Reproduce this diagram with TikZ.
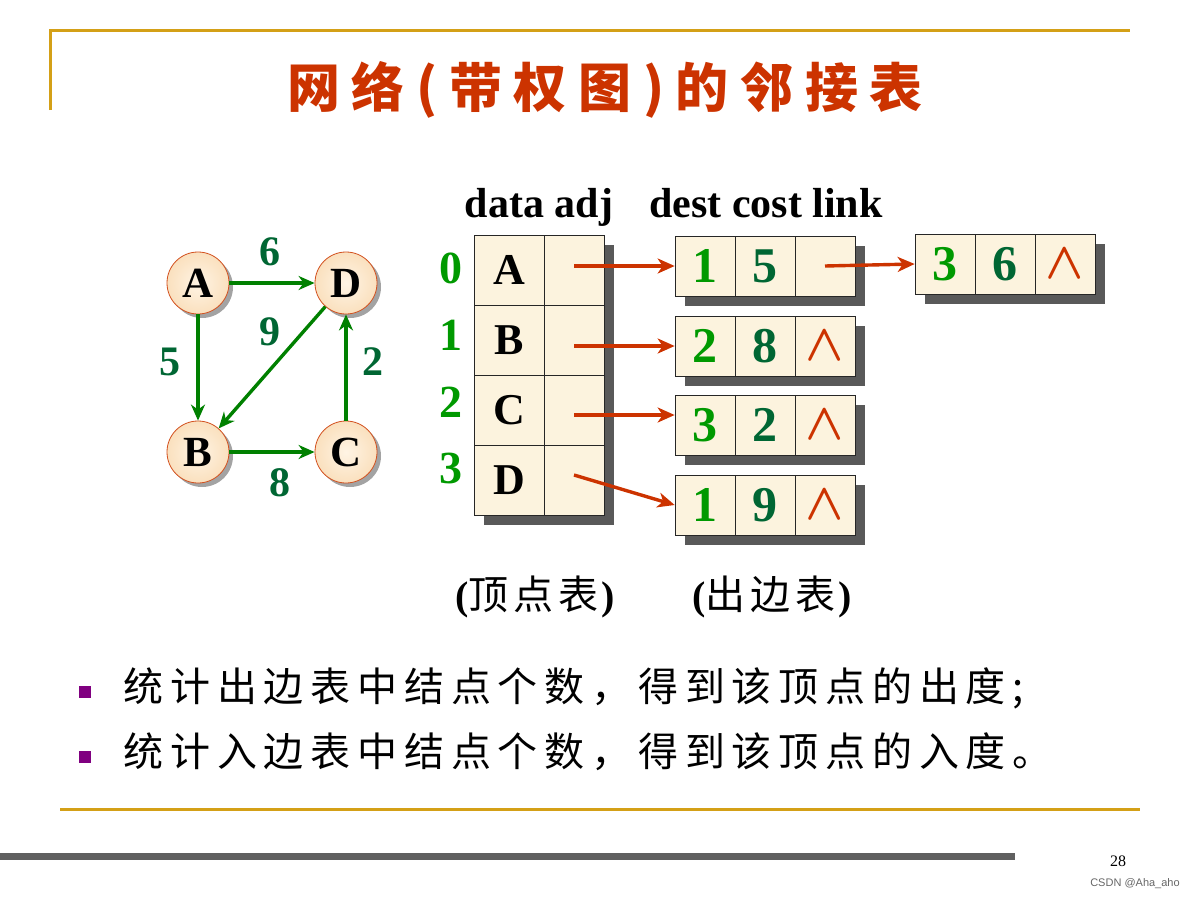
\documentclass[tikz,border=0pt]{standalone}
\usepackage{fontspec}
\setmainfont{Liberation Serif}
\newfontfamily\cjk{Noto Sans CJK SC}
\newfontfamily\cjkw[LetterSpace=17]{Noto Sans CJK SC}
\newfontfamily\cjkc[LetterSpace=12]{Noto Sans CJK SC}
\newfontfamily\cjkt[LetterSpace=22]{Noto Sans CJK SC}
\newfontfamily\sans{Liberation Sans}
\usetikzlibrary{arrows.meta,shadows}
\definecolor{gold}{RGB}{212,160,23}
\definecolor{titlered}{RGB}{204,51,0}
\definecolor{edgegreen}{RGB}{0,128,0}
\definecolor{wgreen}{RGB}{0,102,51}
\definecolor{igreen}{RGB}{0,153,0}
\definecolor{arrred}{RGB}{204,51,0}
\definecolor{cream}{RGB}{252,243,222}
\definecolor{peach}{RGB}{250,224,190}
\definecolor{peachlight}{RGB}{255,244,228}
\definecolor{vborder}{RGB}{210,80,30}
\definecolor{bulletpurple}{RGB}{128,0,128}
\definecolor{bargrey}{RGB}{96,96,96}
\begin{document}
\begin{tikzpicture}[x=1pt,y=-1pt,
  vtx/.style={circle, minimum size=62pt, inner sep=0pt, draw=vborder, line width=0.8pt,
    inner color=peachlight, outer color=peach,
    drop shadow={shadow xshift=4pt, shadow yshift=-4pt, fill=black!45, opacity=0.8},
    font=\fontsize{43}{43}\selectfont\bfseries},
  garrow/.style={draw=edgegreen, line width=3.4pt, -{Stealth[length=16pt,width=14pt,inset=5pt]}},
  rarrow/.style={draw=arrred, line width=3.4pt, -{Stealth[length=17pt,width=15pt,inset=5pt]}},
  wlabel/.style={text=wgreen, font=\fontsize{42}{42}\selectfont\bfseries},
  cellbase/.style={rectangle, draw=black!85, line width=0.7pt, fill=cream, inner sep=0pt,
    drop shadow={shadow xshift=10pt, shadow yshift=-10pt, fill=black!65, opacity=1}},
  vdata/.style={cellbase, minimum width=70pt, minimum height=70pt, font=\fontsize{44}{44}\selectfont\bfseries},
  vadj/.style={cellbase, minimum width=60pt, minimum height=70pt},
  ecell/.style={cellbase, minimum width=60pt, minimum height=60pt, font=\fontsize{50}{50}\selectfont\bfseries},
  idx/.style={text=igreen, font=\fontsize{46}{46}\selectfont\bfseries},
  hdr/.style={anchor=base, font=\fontsize{42}{42}\selectfont\bfseries},
  nil/.style={text=arrred, font=\fontsize{10}{10}\selectfont\boldmath},
  captext/.style={font=\fontsize{40}{40}\selectfont\bfseries},
  bullet/.style={rectangle, fill=bulletpurple, minimum size=12pt, inner sep=0pt},
  btext/.style={anchor=west, font=\fontsize{40}{42}\selectfont\cjkw},
  goldline/.style={draw=gold, line width=3pt}
]
\useasboundingbox (0,0) rectangle (1200,900);

% frame lines
\coordinate (tl) at (50,30);
\coordinate (tr) at (1130,30);
\coordinate (lb) at (50,110);
\draw[goldline] (lb) -- (tl) -- (tr);
\coordinate (bl) at (60,809);
\coordinate (br) at (1140,809);
\draw[goldline] (bl) -- (br);
\coordinate (gl) at (0,856);
\coordinate (gr) at (1015,856);
\draw[draw=bargrey, line width=7pt] (gl) -- (gr);

% title
\node[text=titlered, font=\fontsize{53}{56}\selectfont\cjkt\bfseries] (title) at (605,90) {网络(带权图)的邻接表};

% graph
\node[vtx] (A) at (198,283) {A};
\node[vtx] (D) at (346,283) {D};
\node[vtx] (B) at (198,452) {B};
\node[vtx] (C) at (346,452) {C};
\draw[garrow] (A) -- (D);
\draw[garrow] (A) -- (B);
\draw[garrow] (D) -- (B);
\draw[garrow] (C) -- (D);
\draw[garrow] (B) -- (C);
\node[wlabel] (w6) at (270,252) {6};
\node[wlabel] (w5) at (170,362) {5};
\node[wlabel] (w9) at (270,332) {9};
\node[wlabel] (w2) at (373,362) {2};
\node[wlabel] (w8) at (280,483) {8};

% headers
\node[hdr] (h1) at (539,217) {data adj};
\node[hdr] (h2) at (766,217) {dest cost link};

% vertex table
\node[vdata] (v0d) at (509,270) {A};
\node[vadj]  (v0p) at (574,270) {};
\node[vdata] (v1d) at (509,340) {B};
\node[vadj]  (v1p) at (574,340) {};
\node[vdata] (v2d) at (509,410) {C};
\node[vadj]  (v2p) at (574,410) {};
\node[vdata] (v3d) at (509,480) {D};
\node[vadj]  (v3p) at (574,480) {};
\node[idx] (i0) at (451,268) {0};
\node[idx] (i1) at (451,335) {1};
\node[idx] (i2) at (451,402) {2};
\node[idx] (i3) at (451,468) {3};

% edge nodes
\node[ecell] (e0a) at (705,266) {\textcolor{igreen}{1}};
\node[ecell] (e0b) at (765,266) {\textcolor{wgreen}{5}};
\node[ecell] (e0c) at (825,266) {};
\node[ecell] (e1a) at (705,346) {\textcolor{igreen}{2}};
\node[ecell] (e1b) at (765,346) {\textcolor{wgreen}{8}};
\node[ecell, nil] (e1c) at (825,346) {\scalebox{5}[5.2]{$\wedge$}};
\node[ecell] (e2a) at (705,425) {\textcolor{igreen}{3}};
\node[ecell] (e2b) at (765,425) {\textcolor{wgreen}{2}};
\node[ecell, nil] (e2c) at (825,425) {\scalebox{5}[5.2]{$\wedge$}};
\node[ecell] (e3a) at (705,505) {\textcolor{igreen}{1}};
\node[ecell] (e3b) at (765,505) {\textcolor{wgreen}{9}};
\node[ecell, nil] (e3c) at (825,505) {\scalebox{5}[5.2]{$\wedge$}};
\node[ecell] (e4a) at (945,264) {\textcolor{igreen}{3}};
\node[ecell] (e4b) at (1005,264) {\textcolor{wgreen}{6}};
\node[ecell, nil] (e4c) at (1065,264) {\scalebox{5}[5.2]{$\wedge$}};

% pointer arrows
\draw[rarrow] (e0a.west -| v0p.center) -- (e0a.west);
\draw[rarrow] (e1a.west -| v1p.center) -- (e1a.west);
\draw[rarrow] ([yshift=10pt]e2a.west -| v2p.center) -- ([yshift=10pt]e2a.west);
\draw[rarrow] ([yshift=5pt]v3p.center) -- (e3a.west);
\draw[rarrow] (e0c.center) -- (e4a.west);

% captions
\node[captext] (cap1) at (535,597) {({\cjkc\mdseries 顶点表}\hspace{3pt})};
\node[captext] (cap2) at (772,597) {({\cjkc\mdseries 出边表}\hspace{3pt})};

% bullets
\node[bullet] (b1) at (85,692) {};
\node[bullet] (b2) at (85,757) {};
\node[btext] (t1) at (120,688) {统计出边表中结点个数，得到该顶点的出度;};
\node[btext] (t2) at (120,752) {统计入边表中结点个数，得到该顶点的入度。};

% footer
\node[font=\fontsize{16}{16}\selectfont] (pg) at (1118,861) {28};
\node[font=\fontsize{11}{11}\selectfont\sans, text=black!60] (csdn) at (1135,884) {CSDN @Aha\_aho};
\end{tikzpicture}
\end{document}
